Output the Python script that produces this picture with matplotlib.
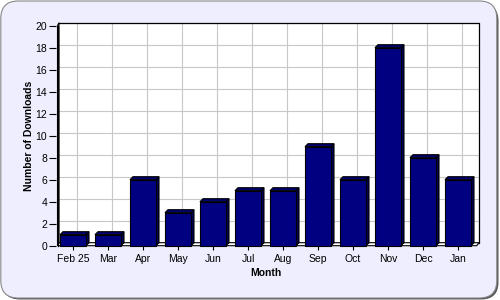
import matplotlib
matplotlib.use("Agg")
import matplotlib.pyplot as plt
import matplotlib.patches as mpatches
from matplotlib.transforms import ScaledTranslation

# data
months = ['Feb 25', 'Mar', 'Apr', 'May', 'Jun', 'Jul', 'Aug', 'Sep', 'Oct', 'Nov', 'Dec', 'Jan']
downloads = [1, 1, 6, 3, 4, 5, 5, 9, 6, 18, 8, 6]
yticks = list(range(0, 21, 2))

plt.rcParams['font.family'] = ['Liberation Sans', 'DejaVu Sans']

W, H, DPI = 500, 300, 100
fig = plt.figure(figsize=(W / DPI, H / DPI), dpi=DPI)
fig.patch.set_facecolor('white')

# rounded background with shadow
shadow = mpatches.FancyBboxPatch((2.5 / W, 0.5 / H), 496 / W, 296 / H,
                                 boxstyle='round,pad=0,rounding_size=0.035',
                                 transform=fig.transFigure, facecolor='#555555',
                                 edgecolor='none', mutation_aspect=W / H, zorder=-10)
fig.patches.append(shadow)
bg = mpatches.FancyBboxPatch((0.8 / W, 2 / H), 496 / W, 297 / H,
                             boxstyle='round,pad=0,rounding_size=0.035',
                             transform=fig.transFigure, facecolor='#EEEEFF',
                             edgecolor='#888888', linewidth=0.8, mutation_aspect=W / H, zorder=-9)
fig.patches.append(bg)

# front plane of the plot area (pixels)
left, right = 55.5, 475.5
bottom, top = 300 - 245.7, 300 - 25.7
ax = fig.add_axes([left / W, bottom / H, (right - left) / W, (top - bottom) / H])
ax.set_facecolor('none')
ax.set_xlim(-0.5, len(months) - 0.5)
ax.set_ylim(0, 20)
for s in ax.spines.values():
    s.set_visible(False)

# 3d offsets in pixels
bdx, bdy = 3.5, 3.0
back = ax.transAxes + ScaledTranslation(bdx / DPI, bdy / DPI, fig.dpi_scale_trans)
back_data = ax.transData + ScaledTranslation(bdx / DPI, bdy / DPI, fig.dpi_scale_trans)

# floor and left wall
ux = (right - left) / len(months)
uy = (top - bottom) / 20
fx0 = -0.5 + 2 / ux
fx1 = len(months) - 0.5 + 1.2 / ux
ddx, ddy = bdx / ux, bdy / uy
floor = mpatches.Polygon([(fx0, 0), (fx1, 0), (len(months) - 0.5 + ddx, ddy), (-0.5 + ddx, ddy)],
                         closed=True, facecolor='white', edgecolor='black', linewidth=0.8,
                         zorder=1, clip_on=False)
ax.add_patch(floor)
wall = mpatches.Polygon([(fx0, 0), (fx0, 20), (-0.5 + ddx, 20 + ddy), (-0.5 + ddx, ddy)],
                        closed=True, facecolor='white', edgecolor='black', linewidth=0.8,
                        zorder=1, clip_on=False)
ax.add_patch(wall)

# back plane
plane = mpatches.Rectangle((0, 0), 1, 1, transform=back, facecolor='white',
                           edgecolor='none', zorder=0.5, clip_on=False)
ax.add_patch(plane)
for y in yticks:
    ax.plot([-0.5, len(months) - 0.5], [y, y], color='#C8C8C8', linewidth=0.8,
            transform=back_data, zorder=0.8, clip_on=False)
for i in range(len(months)):
    ax.plot([i, i], [0, 20], color='#C8C8C8', linewidth=0.8, transform=back_data,
            zorder=0.8, clip_on=False)
ax.plot([-0.5, len(months) - 0.5, len(months) - 0.5], [20, 20, 0], color='black',
        linewidth=0.9, transform=back_data, zorder=0.9, clip_on=False)

# bars
bw = 26 / ux
dx, dy = 3 / ux, 3 / uy
for i, v in enumerate(downloads):
    xl, xr = i - bw / 2, i + bw / 2
    side = mpatches.Polygon([(xr, 0), (xr, v), (xr + dx, v + dy), (xr + dx, dy)], closed=True,
                            facecolor='#000055', edgecolor='black', linewidth=0.8, zorder=3,
                            clip_on=False)
    topf = mpatches.Polygon([(xl, v), (xr, v), (xr + dx, v + dy), (xl + dx, v + dy)], closed=True,
                            facecolor='#000070', edgecolor='black', linewidth=0.8, zorder=3,
                            clip_on=False)
    ax.add_patch(side)
    ax.add_patch(topf)
ax.bar(range(len(months)), downloads, width=bw, color='#000080', edgecolor='black',
       linewidth=0.8, zorder=4, clip_on=False)

# axes ticks and labels
ax.set_xticks(range(len(months)))
ax.set_xticklabels(months)
ax.set_yticks(yticks)
ax.tick_params(axis='x', length=3, width=0.8, pad=3, labelsize=7.5)
ax.tick_params(axis='y', length=5, width=0.8, pad=1, labelsize=7.5)
ax.plot([fx0, fx0], [0, 20], color='black', linewidth=0.9, zorder=2, clip_on=False)

ax.set_xlabel('Month', fontsize=7.5, fontweight='bold', labelpad=3)
ax.set_ylabel('Number of Downloads', fontsize=7.5, fontweight='bold', labelpad=1)

fig.savefig('out.png', dpi=DPI)
